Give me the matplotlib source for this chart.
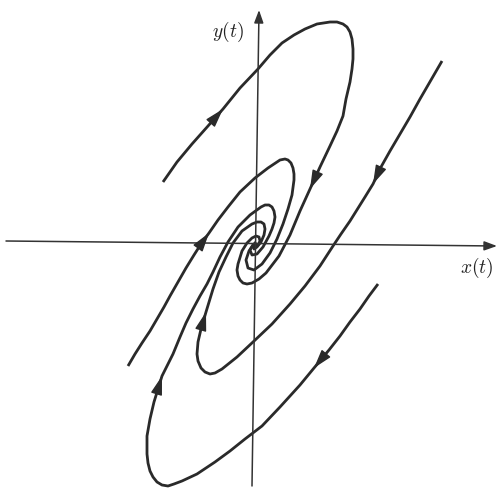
import matplotlib

matplotlib.use("Agg")

import matplotlib.pyplot as plt

# phase-plane trajectories, origin at the equilibrium point
t1_x = [-94, -80, -65, -49, -34, -17, 1, 13, 25, 37, 48, 60, 73, 80, 86, 90, 93, 95, 96, 96,
        95, 93, 89, 86, 80, 73, 63, 53, 43, 33, 22, 9, 2, -5, -10, -14, -17, -19, -20, -19,
        -15, -10, -5, -1, 2, 3, 1, -2, -2]
t1_y = [62, 82, 100, 118, 135, 156, 175, 189, 201, 209, 215, 220, 222, 222, 220, 217, 212, 205, 195, 185,
        175, 162, 145, 128, 113, 98, 77, 55, 33, 9, -12, -29, -35, -39, -40, -39, -36, -32, -26, -20,
        -7, 1, 6, 8, 7, 3, -1, -2, 1]

t2_x = [185, 174, 163, 153, 143, 133, 124, 116, 108, 93, 84, 76, 63, 48, 33, 15, -4, -20, -35, -42,
        -47, -52, -56, -59, -60, -59, -56, -51, -44, -38, -31, -24, -15, -5, 0, 4, 7, 8, 7, 4,
        0, -3, -4, -2]
t2_y = [183, 164, 145, 127, 110, 93, 77, 60, 47, 23, 10, -2, -22, -42, -60, -80, -98, -113, -125, -129,
        -130, -128, -124, -117, -110, -98, -85, -68, -45, -28, -13, 1, 13, 20, 22, 22, 20, 15, 9, 2,
        -3, -5, -2, 0]

t3_x = [121, 112, 103, 93, 83, 72, 57, 43, 23, 5, -12, -27, -42, -60, -75, -83, -89, -95, -100, -104,
        -107, -109, -110, -110, -107, -103, -95, -84, -77, -71, -64, -57, -50, -44, -37, -29, -19, -7, 4, 8,
        12, 15, 17, 18, 17, 15, 12, 6, 0, -5, -7, -4]
t3_y = [-40, -52, -65, -78, -92, -106, -124, -141, -163, -182, -195, -207, -218, -230, -237, -240, -242, -241, -238, -233,
        -227, -219, -210, -192, -175, -158, -132, -110, -93, -79, -65, -52, -40, -28, -13, 2, 17, 29, 37, 39,
        39, 37, 33, 27, 21, 15, 8, -3, -10, -11, -6, -1]

t4_x = [-129, -122, -115, -107, -100, -93, -87, -79, -71, -63, -56, -48, -39, -29, -17, -2, 11, 23, 28, 31,
        34, 36, 37, 37, 35, 31, 26, 20, 13, 5, -3, -9, -11, -8, -4, -1]
t4_y = [-122, -110, -99, -87, -75, -63, -52, -38, -24, -11, 0, 11, 24, 37, 52, 66, 76, 84, 85, 84,
        81, 76, 70, 64, 49, 35, 20, 5, -9, -20, -26, -24, -16, -7, -1, 2]

trajectories = [(t1_x, t1_y), (t2_x, t2_y), (t3_x, t3_y), (t4_x, t4_y)]

# (trajectory number, index of the point where an arrowhead tip sits)
arrow_marks = [(0, 4), (0, 27), (1, 7), (1, 27), (2, 6), (2, 26), (3, 11)]

# axis lines (start, end), end carries the arrowhead
x_axis = [(-251, 3), (240, -2)]
y_axis = [(-5, -242), (2, 234)]

INK = "#2a2a2a"

plt.rcParams["mathtext.fontset"] = "cm"

fig = plt.figure(figsize=(5, 4.89), dpi=100)
ax = fig.add_axes([0, 0, 1, 1])
ax.set_xlim(-257, 243)
ax.set_ylim(-244, 245)
ax.axis("off")

for start, end in (x_axis, y_axis):
    ax.annotate("", xy=end, xytext=start,
                arrowprops=dict(arrowstyle="-|>,head_length=0.55,head_width=0.2",
                                mutation_scale=14, color="#333333", lw=1.1,
                                shrinkA=0, shrinkB=0))

for xs, ys in trajectories:
    ax.plot(xs, ys, color=INK, lw=2.0, solid_joinstyle="round", solid_capstyle="butt")

for k, i in arrow_marks:
    xs, ys = trajectories[k]
    ax.annotate("", xy=(xs[i], ys[i]), xytext=(xs[i - 1], ys[i - 1]),
                arrowprops=dict(arrowstyle="-|>,head_length=1.05,head_width=0.32",
                                mutation_scale=11, color=INK, lw=1.0,
                                shrinkA=0, shrinkB=0))

ax.text(-29, 213, r"$y(t)$", fontsize=14, ha="center", va="center", color="#222222")
ax.text(220, -23, r"$x(t)$", fontsize=14, ha="center", va="center", color="#222222")

fig.savefig("out.png", dpi=100)
plt.close(fig)
